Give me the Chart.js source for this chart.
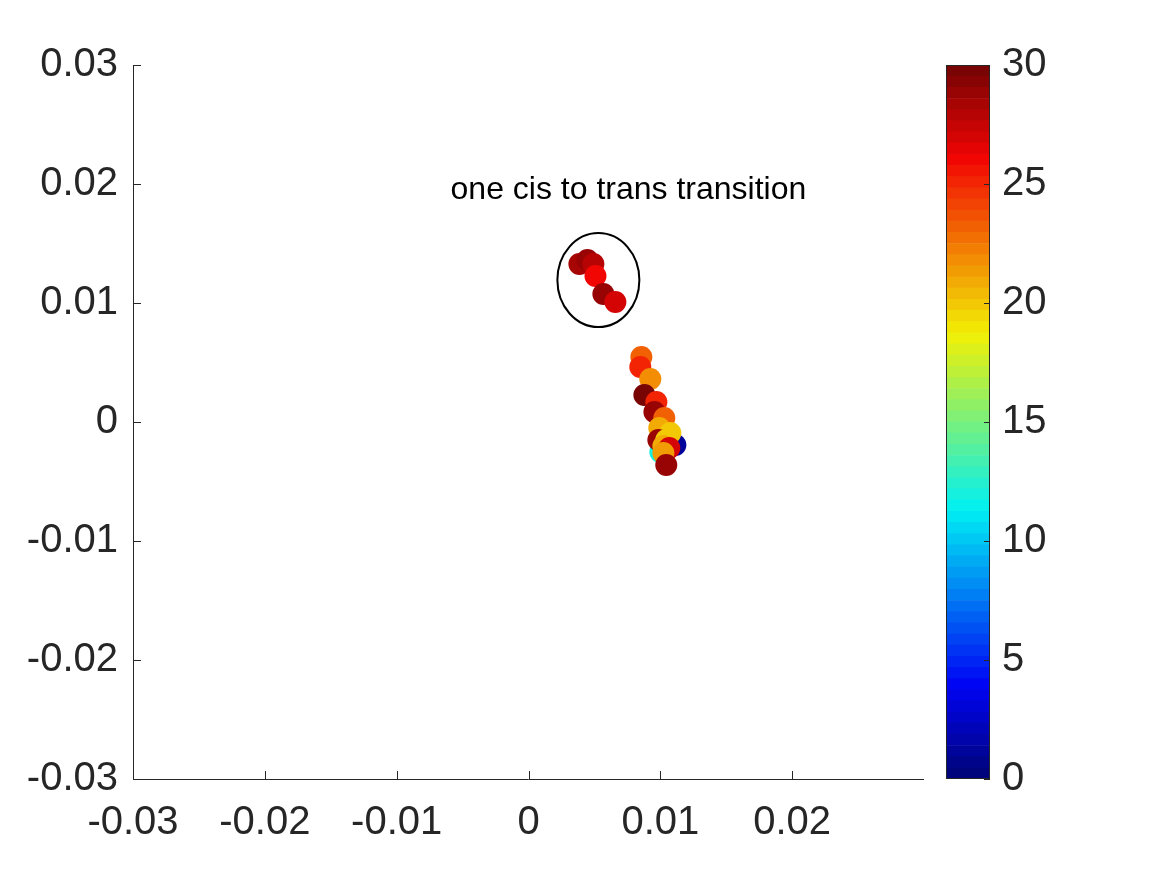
<!DOCTYPE html>
<html>
<head>
<meta charset="utf-8">
<script src="https://cdn.jsdelivr.net/npm/chart.js@4"></script>
<style>
	html, body { margin: 0; padding: 0; background: #fff; }
	#wrap { position: relative; width: 1167px; height: 875px; }
	#main { position: absolute; left: 0; top: 0; }
	#cbar { position: absolute; left: 940px; top: 0; }
</style>
</head>
<body>
<div id="wrap">
	<canvas id="main" width="1167" height="875"></canvas>
	<canvas id="cbar" width="227" height="875"></canvas>
</div>
<script>
// point positions, back to front
var xs = [0.01114, 0.01000, 0.00386, 0.00447, 0.00492, 0.00508, 0.00568, 0.00659,
	0.00856, 0.00848, 0.00924, 0.00879, 0.00970, 0.00955, 0.01030, 0.00992,
	0.01076, 0.00985, 0.01045, 0.01023, 0.01068, 0.01023, 0.01045];
var ys = [-0.00193, -0.00252, 0.01328, 0.01361, 0.01328, 0.01227, 0.01076, 0.01008,
	0.00546, 0.00462, 0.00361, 0.00227, 0.00168, 0.00084, 0.00034, -0.00050,
	-0.00092, -0.00151, -0.00151, -0.00202, -0.00218, -0.00261, -0.00361];
// colour value of each point (0..30)
var cvals = [1, 12, 28.5, 29, 28, 26, 29, 27,
	23, 25, 22, 30, 25, 29, 23, 21,
	20, 29, 20, 21, 27, 21.5, 29];

var xTicks = [-0.03, -0.02, -0.01, 0, 0.01, 0.02];
var yTicks = [-0.03, -0.02, -0.01, 0, 0.01, 0.02, 0.03];
var cbarTicks = [0, 5, 10, 15, 20, 25, 30];
var cmin = 0, cmax = 30, nLevels = 64;

var noteText = 'one cis to trans transition';
var noteX = 0.00758, noteY = 0.0195;
// ellipse around the transition points (centre, half widths)
var ellX = 0.0053, ellY = 0.01193, ellRx = 0.00311, ellRy = 0.00395;

var FONT = '"Liberation Sans", Arial, Helvetica, sans-serif';
var AXIS = '#262626';

function jet(v) {
	var t = (v - cmin) / (cmax - cmin);
	t = Math.max(0, Math.min(1, t));
	t = Math.min(nLevels - 1, Math.floor(t * nLevels)) / (nLevels - 1);
	function c(x) { return Math.max(0, Math.min(1, x)); }
	var r = c(1.5 - Math.abs(4 * t - 3));
	var g = c(1.5 - Math.abs(4 * t - 2));
	var b = c(1.5 - Math.abs(4 * t - 1));
	return 'rgb(' + Math.round(r * 242) + ',' + Math.round(g * 236 + 4) + ',' + Math.round(b * 240 + 4) + ')';
}

var points = xs.map(function (x, i) { return { x: x, y: ys[i] }; });

var inwardTicks = {
	id: 'inwardTicks',
	afterDraw: function (chart) {
		var ctx = chart.ctx, a = chart.chartArea;
		var sx = chart.scales.x, sy = chart.scales.y;
		ctx.save();
		ctx.strokeStyle = AXIS;
		ctx.lineWidth = 1;
		ctx.beginPath();
		ctx.moveTo(a.left + 0.5, a.top);
		ctx.lineTo(a.left + 0.5, a.bottom + 0.5);
		ctx.lineTo(a.right, a.bottom + 0.5);
		xTicks.forEach(function (t) {
			var px = Math.round(sx.getPixelForValue(t)) + 0.5;
			ctx.moveTo(px, a.bottom);
			ctx.lineTo(px, a.bottom - 8);
		});
		yTicks.forEach(function (t) {
			var py = Math.round(sy.getPixelForValue(t)) + 0.5;
			ctx.moveTo(a.left, py);
			ctx.lineTo(a.left + 8, py);
		});
		ctx.stroke();

		// annotation ellipse and label
		var cx = sx.getPixelForValue(ellX), cy = sy.getPixelForValue(ellY);
		var rx = Math.abs(sx.getPixelForValue(ellX + ellRx) - cx);
		var ry = Math.abs(sy.getPixelForValue(ellY + ellRy) - cy);
		ctx.beginPath();
		ctx.ellipse(cx, cy, rx, ry, 0, 0, Math.PI * 2);
		ctx.strokeStyle = '#000';
		ctx.lineWidth = 2;
		ctx.stroke();

		ctx.fillStyle = '#000';
		ctx.font = '32px ' + FONT;
		ctx.textAlign = 'center';
		ctx.textBaseline = 'middle';
		ctx.fillText(noteText, sx.getPixelForValue(noteX), sy.getPixelForValue(noteY));
		ctx.restore();
	}
};

new Chart(document.getElementById('main'), {
	type: 'scatter',
	data: {
		datasets: [{
			data: points,
			pointRadius: 11,
			pointHoverRadius: 11,
			pointBorderWidth: 0,
			pointBackgroundColor: cvals.map(jet)
		}]
	},
	options: {
		responsive: false,
		animation: false,
		layout: { padding: { left: 0, right: 243, top: 65, bottom: 0 } },
		plugins: { legend: { display: false }, tooltip: { enabled: false } },
		scales: {
			x: {
				type: 'linear', min: -0.03, max: 0.03,
				afterBuildTicks: function (s) { s.ticks = xTicks.map(function (v) { return { value: v }; }); },
				afterFit: function (s) { s.height = 96; },
				grid: { display: false },
				border: { display: false },
				ticks: {
					color: AXIS, padding: 12,
					font: { family: FONT, size: 40 },
					maxRotation: 0, autoSkip: false,
					callback: function (v) { return String(+v.toFixed(2)); }
				}
			},
			y: {
				type: 'linear', min: -0.03, max: 0.03,
				afterBuildTicks: function (s) { s.ticks = yTicks.map(function (v) { return { value: v }; }); },
				afterFit: function (s) { s.width = 133; },
				grid: { display: false },
				border: { display: false },
				ticks: {
					color: AXIS, padding: 7,
					font: { family: FONT, size: 40 },
					autoSkip: false,
					callback: function (v) { return String(+v.toFixed(2)); }
				}
			}
		}
	},
	plugins: [inwardTicks]
});

// colour bar: one floating bar per colormap level
var levelBars = [];
for (var k = 0; k < nLevels; k++) {
	levelBars.push({
		label: 'l' + k,
		data: [[cmin + (cmax - cmin) * k / nLevels, cmin + (cmax - cmin) * (k + 1) / nLevels]],
		backgroundColor: jet(cmin + (cmax - cmin) * (k + 0.5) / nLevels),
		borderWidth: 0,
		barPercentage: 1,
		categoryPercentage: 1,
		grouped: false
	});
}

var cbarFrame = {
	id: 'cbarFrame',
	afterDraw: function (chart) {
		var ctx = chart.ctx, a = chart.chartArea, sy = chart.scales.y;
		ctx.save();
		ctx.strokeStyle = AXIS;
		ctx.lineWidth = 1;
		ctx.strokeRect(a.left + 0.5, a.top + 0.5, a.right - a.left - 1, a.bottom - a.top - 1);
		ctx.beginPath();
		cbarTicks.forEach(function (t) {
			var py = Math.round(sy.getPixelForValue(t)) + 0.5;
			ctx.moveTo(a.right, py);
			ctx.lineTo(a.right - 6, py);
		});
		ctx.stroke();
		ctx.restore();
	}
};

new Chart(document.getElementById('cbar'), {
	type: 'bar',
	data: { labels: [''], datasets: levelBars },
	options: {
		responsive: false,
		animation: false,
		layout: { padding: { left: 6, right: 0, top: 65, bottom: 96 } },
		plugins: { legend: { display: false }, tooltip: { enabled: false } },
		scales: {
			x: { display: false },
			y: {
				position: 'right', min: cmin, max: cmax,
				afterBuildTicks: function (s) { s.ticks = cbarTicks.map(function (v) { return { value: v }; }); },
				afterFit: function (s) { s.width = 177; },
				grid: { display: false },
				border: { display: false },
				ticks: { color: AXIS, padding: 4, font: { family: FONT, size: 40 } }
			}
		}
	},
	plugins: [cbarFrame]
});
</script>
</body>
</html>
